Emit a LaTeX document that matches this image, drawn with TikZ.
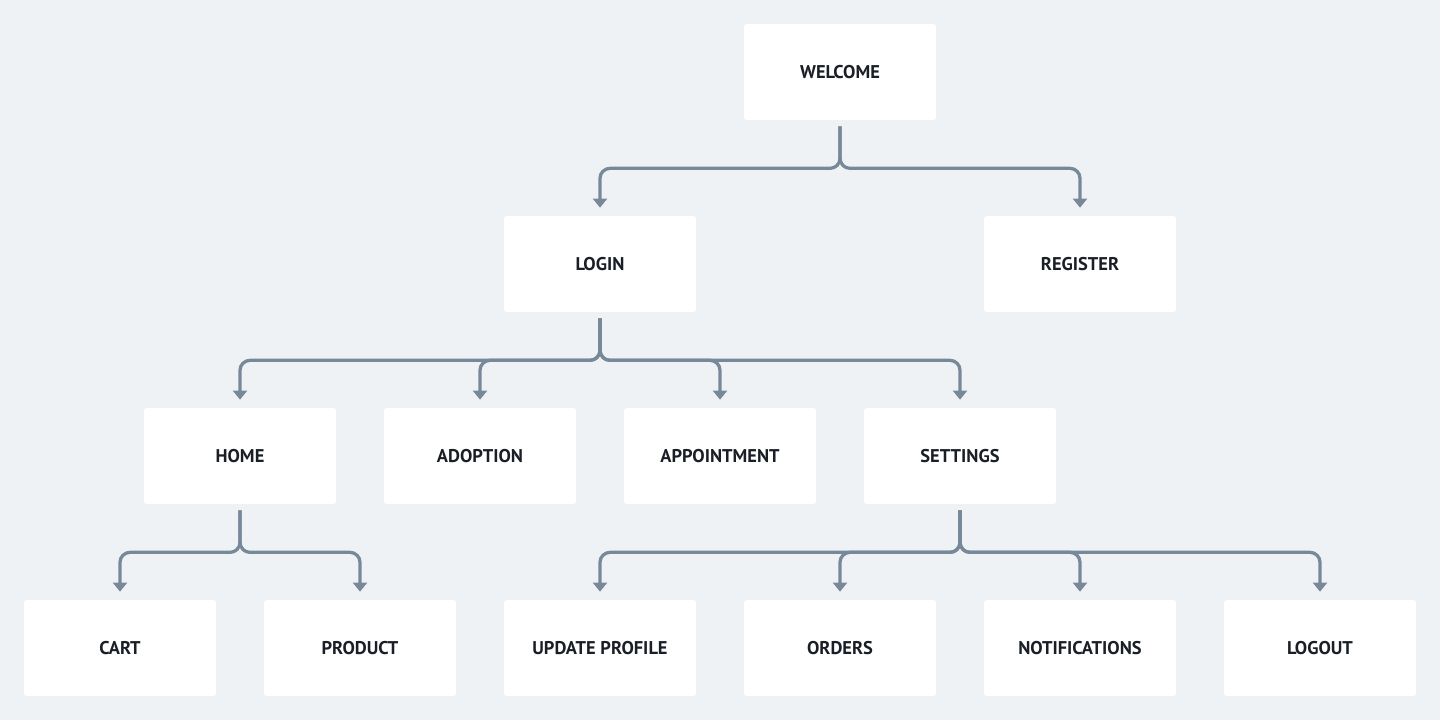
\documentclass[tikz,border=0pt]{standalone}
\usepackage{fontspec}
\setmainfont{PT Sans}
\usepackage{tikz}
\usetikzlibrary{arrows.meta}

\definecolor{pagebg}{HTML}{EFF2F5}
\definecolor{linkgray}{HTML}{778899}
\definecolor{textdark}{HTML}{1A1F27}

\tikzset{
  page/.style={fill=pagebg, draw=none},
  screen/.style={fill=white, draw=none, rounded corners=0.06cm, minimum width=3.84cm, minimum height=1.92cm,
    text=textdark, font=\bfseries\fontsize{10.5}{12}\selectfont},
  link/.style={draw=linkgray, line width=0.065cm, rounded corners=0.2cm,
    -{Triangle[width=0.28cm,length=0.18cm]}, shorten <=0.12cm, shorten >=0.16cm}
}

\begin{document}
\begin{tikzpicture}[x=0.02cm, y=-0.02cm]
\fill[page] (0,0) rectangle (1440,720);
\useasboundingbox (0,0) rectangle (1440,720);
% level 1
\node[screen] (welcome) at (840,72) {WELCOME};
% level 2
\node[screen] (login) at (600,264) {LOGIN};
\node[screen] (register) at (1080,264) {REGISTER};
% level 3
\node[screen] (home) at (240,456) {HOME};
\node[screen] (adoption) at (480,456) {ADOPTION};
\node[screen] (appointment) at (720,456) {APPOINTMENT};
\node[screen] (settings) at (960,456) {SETTINGS};
% level 4
\node[screen] (cart) at (120,648) {CART};
\node[screen] (product) at (360,648) {PRODUCT};
\node[screen] (profile) at (600,648) {UPDATE PROFILE};
\node[screen] (orders) at (840,648) {ORDERS};
\node[screen] (notify) at (1080,648) {NOTIFICATIONS};
\node[screen] (logout) at (1320,648) {LOGOUT};
% links
\draw[link] (welcome.south) -- ++(0,48) -| (login.north);
\draw[link] (welcome.south) -- ++(0,48) -| (register.north);
\draw[link] (login.south) -- ++(0,48) -| (home.north);
\draw[link] (login.south) -- ++(0,48) -| (adoption.north);
\draw[link] (login.south) -- ++(0,48) -| (appointment.north);
\draw[link] (login.south) -- ++(0,48) -| (settings.north);
\draw[link] (home.south) -- ++(0,48) -| (cart.north);
\draw[link] (home.south) -- ++(0,48) -| (product.north);
\draw[link] (settings.south) -- ++(0,48) -| (profile.north);
\draw[link] (settings.south) -- ++(0,48) -| (orders.north);
\draw[link] (settings.south) -- ++(0,48) -| (notify.north);
\draw[link] (settings.south) -- ++(0,48) -| (logout.north);
\end{tikzpicture}
\end{document}
